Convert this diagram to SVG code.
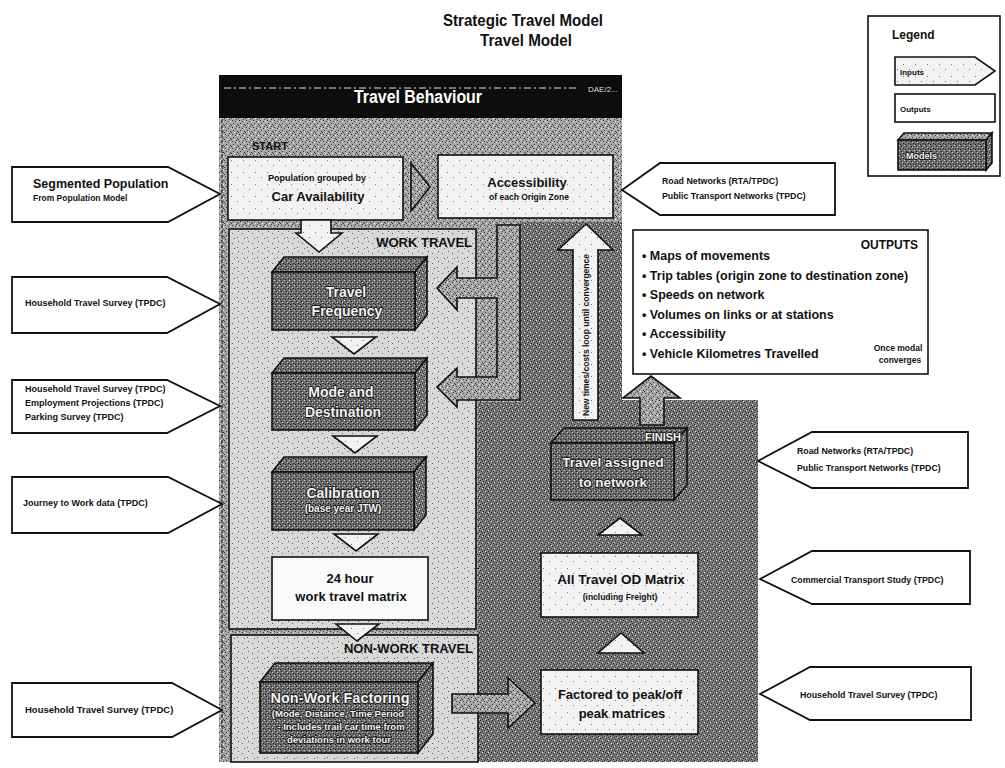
<svg xmlns="http://www.w3.org/2000/svg" width="1005" height="768" viewBox="0 0 1005 768">
<defs>
<style>
.t{font-family:"Liberation Sans",Arial,sans-serif;font-weight:bold;fill:#111}
.w{font-family:"Liberation Sans",Arial,sans-serif;font-weight:bold;fill:#f4f4f4;stroke:#1a1a1a;stroke-width:1.8;paint-order:stroke;stroke-linejoin:round}
.ln{stroke:#111;stroke-width:1.6;stroke-linejoin:miter}
.inp{fill:#fff;stroke:#111;stroke-width:1.8}
</style>
<pattern id="pp" width="7" height="7" patternUnits="userSpaceOnUse"><rect width="7" height="7" fill="#a8a8a8"/><path d="M1 1h1v1H1zM4 2h1v1H4zM2 4h1v1H2zM6 5h1v1H6zM5 0h1v1H5zM0 6h1v1H0z" fill="#333"/><path d="M3 6h1v1H3zM6 2h1v1H6z" fill="#eee"/></pattern>
<pattern id="pd" width="6" height="6" patternUnits="userSpaceOnUse"><rect width="6" height="6" fill="#7c7c7c"/><path d="M0 0h1v1H0zM3 1h1v1H3zM1 3h1v1H1zM4 4h1v1H4zM5 2h1v1H5zM2 5h1v1H2z" fill="#222"/><path d="M2 2h1v1H2zM5 5h1v1H5z" fill="#e0e0e0"/></pattern>
<pattern id="pw" width="10" height="10" patternUnits="userSpaceOnUse"><rect width="10" height="10" fill="#d8d8d8"/><path d="M2 3h1v1H2zM7 7h1v1H7zM8 1h1v1H8zM4 8h1v1H4z" fill="#555"/></pattern>
<pattern id="pl" width="12" height="12" patternUnits="userSpaceOnUse"><rect width="12" height="12" fill="#f2f2f2"/><path d="M3 4h1v1H3zM9 9h1v1H9z" fill="#777"/></pattern>
<pattern id="pb" width="5" height="5" patternUnits="userSpaceOnUse"><rect width="5" height="5" fill="#6c6c6c"/><path d="M1 1h1v1H1zM3 3h1v1H3zM0 4h1v1H0z" fill="#1a1a1a"/><path d="M4 0h1v1H4zM2 2h1v1H2z" fill="#d0d0d0"/></pattern>
</defs>
<rect width="1005" height="768" fill="#fff"/>

<g id="title">
<text class="t" x="523" y="26" font-size="17" text-anchor="middle" textLength="160" lengthAdjust="spacingAndGlyphs">Strategic Travel Model</text>
<text class="t" x="526" y="46" font-size="17" text-anchor="middle" textLength="92" lengthAdjust="spacingAndGlyphs">Travel Model</text>
</g>

<g id="legend">
<rect x="868" y="16" width="132" height="160" fill="#fff" class="ln"/>
<text class="t" x="892" y="39" font-size="12">Legend</text>
<polygon points="895,57 975,57 995,71 975,85 895,85" fill="url(#pl)" class="ln"/>
<text class="t" x="900" y="75" font-size="8">Inputs</text>
<rect x="895" y="94" width="100" height="28" fill="#fff" class="ln"/>
<text class="t" x="900" y="112" font-size="8">Outputs</text>
<polygon points="898,140 904,133 992,133 986,140" fill="url(#pp)" class="ln"/>
<polygon points="986,140 992,133 992,163 986,170" fill="url(#pd)" class="ln"/>
<rect x="898" y="140" width="88" height="30" fill="url(#pb)" class="ln"/>
<text class="w" x="906" y="159" font-size="9" stroke-width="1.2">Models</text>
</g>

<g id="panel">
<rect x="219" y="118" width="403" height="644" fill="url(#pp)"/>
<polygon points="520,222 622,222 622,400 758,400 758,762 478,762 478,402 520,402" fill="url(#pd)"/>
<line x1="222" y1="120" x2="222" y2="760" stroke="#444" stroke-width="1.5" stroke-dasharray="3 2"/>
<text class="t" x="252" y="150" font-size="11">START</text>
</g>

<g id="header">
<rect x="219" y="75" width="403" height="43" fill="#0d0d0d"/>
<line x1="224" y1="88" x2="578" y2="88" stroke="#ddd" stroke-width="1" stroke-dasharray="7 3 2 3"/>
<text x="588" y="92" font-family="Liberation Sans,Arial,sans-serif" font-size="8" fill="#ddd">DAE/2...</text>
<text x="418" y="103" font-family="Liberation Sans,Arial,sans-serif" font-weight="bold" font-size="18" fill="#fff" text-anchor="middle" textLength="128" lengthAdjust="spacingAndGlyphs">Travel Behaviour</text>
</g>

<g id="work-travel">
<rect x="229" y="229" width="247" height="400" fill="url(#pw)" class="ln"/>
<text class="t" x="472" y="247" font-size="13" text-anchor="end">WORK TRAVEL</text>
</g>

<g id="non-work-travel">
<rect x="231" y="635" width="247" height="127" fill="url(#pw)" class="ln"/>
<text class="t" x="473" y="653" font-size="13" text-anchor="end">NON-WORK TRAVEL</text>
</g>

<g id="population">
<rect x="228" y="157" width="175" height="63" fill="url(#pl)" class="ln"/>
<text class="t" x="317" y="181" font-size="9" text-anchor="middle">Population grouped by</text>
<text class="t" x="318" y="201" font-size="13" text-anchor="middle">Car Availability</text>
</g>

<g id="accessibility">
<rect x="438" y="155" width="175" height="63" fill="url(#pl)" class="ln"/>
<text class="t" x="527" y="187" font-size="13" text-anchor="middle">Accessibility</text>
<text class="t" x="529" y="200" font-size="8.5" text-anchor="middle">of each Origin Zone</text>
</g>

<g id="travel-frequency">
<polygon points="272,272 284,257 427,257 415,272" fill="url(#pb)" class="ln"/>
<polygon points="415,272 427,257 427,315 415,330" fill="url(#pd)" class="ln"/>
<rect x="272" y="272" width="143" height="58" fill="url(#pb)" class="ln"/>
<text class="w" x="346" y="297" font-size="14" text-anchor="middle">Travel</text>
<text class="w" x="347" y="316" font-size="14" text-anchor="middle">Frequency</text>
</g>

<g id="mode-destination">
<polygon points="272,373 284,358 427,358 415,373" fill="url(#pb)" class="ln"/>
<polygon points="415,373 427,358 427,415 415,430" fill="url(#pd)" class="ln"/>
<rect x="272" y="373" width="143" height="57" fill="url(#pb)" class="ln"/>
<text class="w" x="341" y="397" font-size="14" text-anchor="middle">Mode and</text>
<text class="w" x="343" y="417" font-size="14" text-anchor="middle">Destination</text>
</g>

<g id="calibration">
<polygon points="272,472 284,457 426,457 414,472" fill="url(#pb)" class="ln"/>
<polygon points="414,472 426,457 426,515 414,530" fill="url(#pd)" class="ln"/>
<rect x="272" y="472" width="142" height="58" fill="url(#pb)" class="ln"/>
<text class="w" x="343" y="498" font-size="14" text-anchor="middle">Calibration</text>
<text class="w" x="343" y="512" font-size="10" stroke-width="1.4" text-anchor="middle">(base year JTW)</text>
</g>

<g id="work-matrix">
<rect x="272" y="557" width="156" height="63" fill="#fafafa" class="ln"/>
<text class="t" x="350" y="583" font-size="13" text-anchor="middle">24 hour</text>
<text class="t" x="351" y="601" font-size="13" text-anchor="middle">work travel matrix</text>
</g>

<g id="non-work-factoring">
<polygon points="260,682 275,663 433,663 418,682" fill="url(#pb)" class="ln"/>
<polygon points="418,682 433,663 433,734 418,753" fill="url(#pd)" class="ln"/>
<rect x="260" y="682" width="158" height="71" fill="url(#pb)" class="ln"/>
<text class="w" x="340" y="703" font-size="14.5" text-anchor="middle">Non-Work Factoring</text>
<text class="w" x="338" y="717" font-size="9.5" stroke-width="1.3" text-anchor="middle">(Mode, Distance, Time Period</text>
<text class="w" x="341" y="730" font-size="9.5" stroke-width="1.3" text-anchor="middle">- Includes trail car time from</text>
<text class="w" x="339" y="743" font-size="9.5" stroke-width="1.3" text-anchor="middle">deviations in work tour</text>
</g>

<g id="finish">
<polygon points="551,443 564,428 687,428 674,443" fill="url(#pb)" class="ln"/>
<polygon points="674,443 687,428 687,485 674,500" fill="url(#pd)" class="ln"/>
<rect x="551" y="443" width="123" height="57" fill="url(#pb)" class="ln"/>
<text class="w" x="681" y="441" font-size="11" stroke-width="1.3" text-anchor="end">FINISH</text>
<text class="w" x="613" y="467" font-size="13.5" text-anchor="middle">Travel assigned</text>
<text class="w" x="613" y="487" font-size="13.5" text-anchor="middle">to network</text>
</g>

<g id="od-matrix">
<rect x="541" y="553" width="157" height="64" fill="url(#pl)" class="ln"/>
<text class="t" x="621" y="584" font-size="13.5" text-anchor="middle">All Travel OD Matrix</text>
<text class="t" x="620" y="600" font-size="8.5" text-anchor="middle">(including Freight)</text>
</g>

<g id="peak-matrices">
<rect x="541" y="670" width="157" height="64" fill="url(#pl)" class="ln"/>
<text class="t" x="620" y="699" font-size="13" text-anchor="middle">Factored to peak/off</text>
<text class="t" x="622" y="718" font-size="13" text-anchor="middle">peak matrices</text>
</g>

<g id="outputs">
<rect x="633" y="230" width="295" height="144" fill="#fff" class="ln"/>
<text class="t" x="918" y="249" font-size="12" text-anchor="end">OUTPUTS</text>
<g class="t" font-size="12.5">
<text x="642" y="260">• Maps of movements</text>
<text x="642" y="279.5">• Trip tables (origin zone to destination zone)</text>
<text x="642" y="299">• Speeds on network</text>
<text x="642" y="318.5">• Volumes on links or at stations</text>
<text x="642" y="338">• Accessibility</text>
<text x="642" y="357.5">• Vehicle Kilometres Travelled</text>
</g>
<text class="t" x="898" y="351" font-size="8.5" text-anchor="middle">Once modal</text>
<text class="t" x="900" y="363" font-size="8.5" text-anchor="middle">converges</text>
</g>

<g id="in-segmented-population">
<polygon points="12,167 168,167 220,194 168,222 12,222" class="inp"/>
<text class="t" x="33" y="188" font-size="12.5">Segmented Population</text>
<text class="t" x="33" y="201" font-size="8.5">From Population Model</text>
</g>
<g id="in-hts-1">
<polygon points="12,277 167,277 220,304 167,333 12,333" class="inp"/>
<text class="t" x="25" y="306" font-size="9">Household Travel Survey (TPDC)</text>
</g>
<g id="in-hts-emp-park">
<polygon points="12,380 167,380 220,406 167,433 12,433" class="inp"/>
<text class="t" x="25" y="392" font-size="9">Household Travel Survey (TPDC)</text>
<text class="t" x="25" y="406" font-size="9">Employment Projections (TPDC)</text>
<text class="t" x="25" y="420" font-size="9">Parking Survey (TPDC)</text>
</g>
<g id="in-jtw">
<polygon points="12,477 168,477 222,504 168,533 12,533" class="inp"/>
<text class="t" x="23" y="506" font-size="9">Journey to Work data (TPDC)</text>
</g>
<g id="in-hts-2">
<polygon points="12,683 172,683 222,710 172,737 12,737" class="inp"/>
<text class="t" x="25" y="713" font-size="9.5">Household Travel Survey (TPDC)</text>
</g>
<g id="in-networks-1">
<polygon points="622,190 660,163 835,163 835,215 660,215" class="inp"/>
<text class="t" x="662" y="184" font-size="8.8">Road Networks (RTA/TPDC)</text>
<text class="t" x="662" y="199" font-size="8.8">Public Transport Networks (TPDC)</text>
</g>
<g id="in-networks-2">
<polygon points="758,461 812,432 968,432 968,488 812,488" class="inp"/>
<text class="t" x="797" y="454" font-size="8.8">Road Networks (RTA/TPDC)</text>
<text class="t" x="797" y="471" font-size="8.8">Public Transport Networks (TPDC)</text>
</g>
<g id="in-commercial">
<polygon points="760,579 812,551 970,551 970,604 812,604" class="inp"/>
<text class="t" x="791" y="583" font-size="8.8">Commercial Transport Study  (TPDC)</text>
</g>
<g id="in-hts-3">
<polygon points="760,694 810,667 971,667 971,720 810,720" class="inp"/>
<text class="t" x="800" y="698" font-size="8.8">Household Travel Survey (TPDC)</text>
</g>

<g id="connectors">
<polygon points="301,220 331,220 331,233 342,233 319,252 296,233 301,233" fill="url(#pl)" class="ln"/>
<polygon points="411,163 430,187 411,211" fill="url(#pp)" class="ln"/>
<polygon points="497,225 520,225 520,400 457,400 457,407 437,387 457,368 457,377 497,377 497,298 457,298 457,310 437,288 457,267 457,278 497,278" fill="url(#pp)" class="ln"/>
<polygon points="332,337 376,337 354,354" fill="url(#pl)" class="ln"/>
<polygon points="333,436 377,436 355,453" fill="url(#pl)" class="ln"/>
<polygon points="334,534 378,534 356,551" fill="url(#pl)" class="ln"/>
<polygon points="336,624 379,624 357,641" fill="url(#pl)" class="ln"/>
<polygon points="452,694 508,694 508,678 535,703 508,728 508,713 452,713" fill="url(#pp)" class="ln"/>
<polygon points="598,653 644,653 621,633" fill="url(#pl)" class="ln"/>
<polygon points="598,535 642,535 620,518" fill="url(#pl)" class="ln"/>
<polygon points="640,425 640,398 623,398 651,376 680,398 664,398 664,425" fill="url(#pp)" class="ln"/>
<polygon points="573,420 573,250 558,250 586,224 613,250 598,250 598,420" fill="url(#pl)" class="ln"/>
<text class="t" x="0" y="0" font-size="9" text-anchor="middle" transform="translate(589,335) rotate(-90)" textLength="162" lengthAdjust="spacingAndGlyphs">New times/costs loop until convergence</text>
</g>
</svg>
